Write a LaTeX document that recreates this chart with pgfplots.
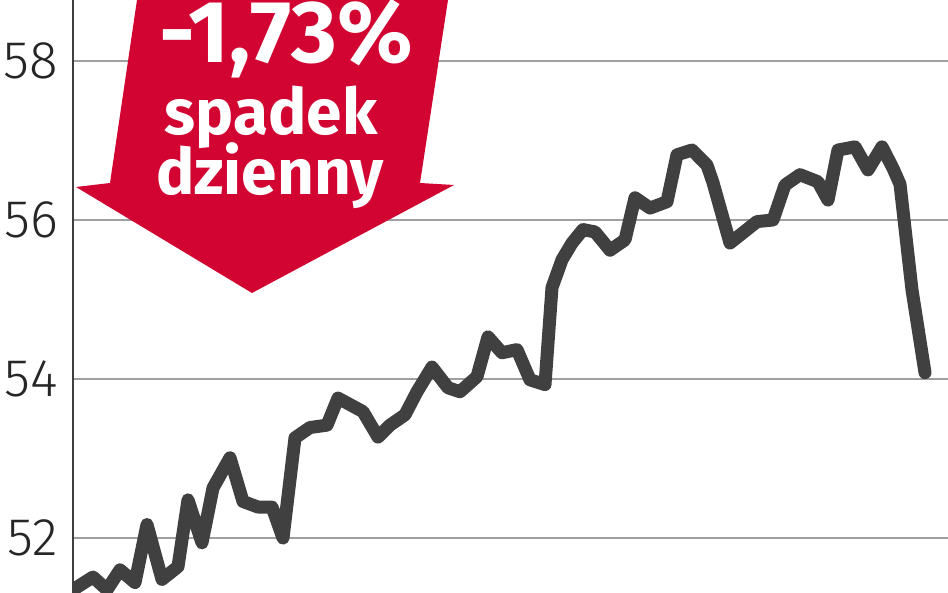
\documentclass[border=0pt]{standalone}
\usepackage{pgfplots}
\pgfplotsset{compat=1.18}
\usepackage{fontspec}
\setmainfont{Fira Sans}
\newfontfamily\lightfont{Fira Sans Light}
\definecolor{arrowred}{RGB}{210,4,50}
\definecolor{linegray}{RGB}{64,64,64}
\definecolor{gridgray}{RGB}{160,160,160}
\begin{document}
\begin{tikzpicture}
\begin{axis}[
  scale only axis,
  width=875pt, height=593pt,
  xmin=73, xmax=948,
  ymin=51.309, ymax=58.767,
  axis lines*=left,
  x axis line style={draw=none},
  y axis line style={draw=linegray, line width=2pt, -},
  xtick=\empty,
  ytick={52,54,56,58},
  yticklabels={52,54,56,58},
  major tick length=0pt,
  ymajorgrids,
  grid style={gridgray, line width=2pt},
  yticklabel style={font=\lightfont\fontsize{53}{53}\selectfont, anchor=east, inner sep=0pt, xshift=-15pt, text=black!85},
]
\addplot[linegray, line width=13pt, line join=round, line cap=round] coordinates {
(73,51.35) (93,51.51) (107,51.35) (120,51.60) (135,51.44) (147,52.17)
(162,51.48) (178,51.64) (188,52.48) (202,51.94) (213,52.63) (230,53.01)
(243,52.46) (258,52.39) (272,52.39) (283,52.00) (295,53.26) (310,53.39)
(327,53.42) (338,53.76) (363,53.59) (378,53.27) (390,53.42) (405,53.55)
(417,53.84) (432,54.15) (448,53.89) (460,53.84) (477,54.03) (488,54.53)
(502,54.33) (517,54.37) (530,53.99) (545,53.93) (552,55.15) (562,55.50)
(572,55.71) (583,55.88) (595,55.85) (610,55.62) (625,55.75) (635,56.28)
(650,56.15) (667,56.23) (677,56.82) (692,56.88) (707,56.69) (713,56.47)
(730,55.71) (757,55.98) (773,56.00) (785,56.44) (800,56.57) (818,56.48)
(828,56.25) (838,56.88) (855,56.92) (868,56.63) (882,56.92) (893,56.65)
(900,56.45) (912,55.12) (925,54.08)
};
\end{axis}
\fill[arrowred] (64pt,593pt) -- (37pt,410pt) -- (3pt,406pt) -- (179pt,300pt) -- (381pt,408pt) -- (347pt,410pt) -- (375pt,593pt) -- cycle;
\node[anchor=base, text=white, font=\bfseries\fontsize{88}{88}\selectfont, inner sep=0pt] at (213pt,530pt) {-1,73\%};
\node[anchor=base, text=white, font=\bfseries\fontsize{64}{64}\selectfont, inner sep=0pt] at (198pt,458pt) {spadek};
\node[anchor=base, text=white, font=\bfseries\fontsize{64}{64}\selectfont, inner sep=0pt] at (197pt,398pt) {dzienny};
\pgfresetboundingbox
\path[use as bounding box] (-73pt,0pt) rectangle (875pt,593pt);
\end{tikzpicture}
\end{document}
